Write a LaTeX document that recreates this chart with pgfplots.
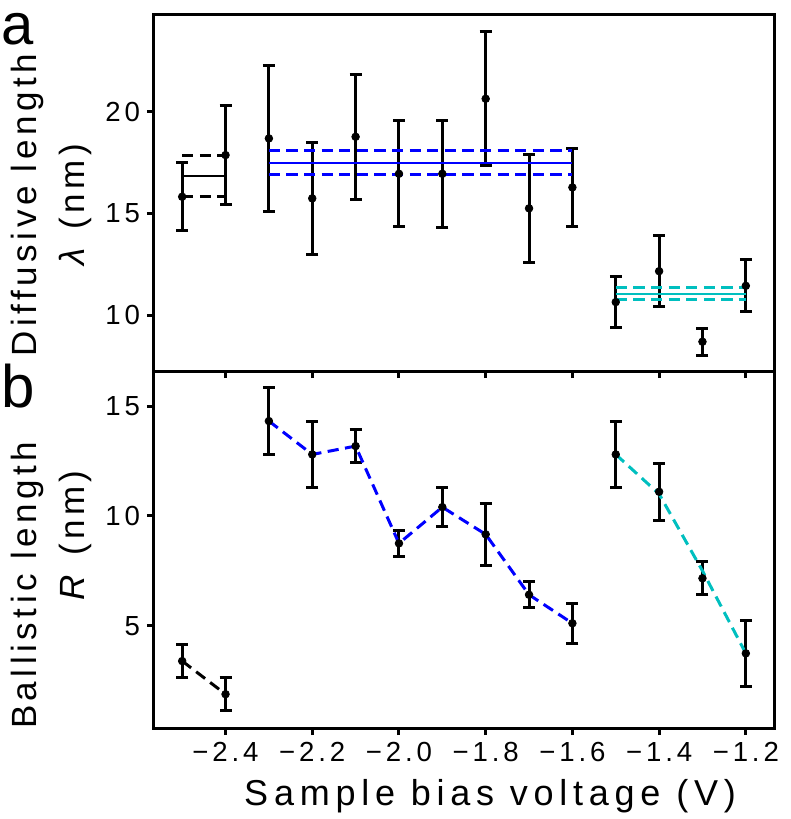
\documentclass[border=0pt]{standalone}
\usepackage{fontspec}
\setmainfont[LetterSpace=14]{Liberation Sans}
\newfontfamily\ylabfont[LetterSpace=13]{Liberation Sans}
\newfontfamily\xlabfont[LetterSpace=16]{Liberation Sans}
\usepackage{pgfplots}
\usepackage{pgfplotstable}
\pgfplotsset{compat=1.18}
\definecolor{mplcyan}{RGB}{0,191,191}

% diffusive length lambda (nm): voltage, value, error
\pgfplotstableread{
x y e
-2.5 15.82 1.67
-2.4 17.87 2.42
-2.3 18.69 3.58
-2.2 15.74 2.74
-2.1 18.77 3.08
-2.0 16.95 2.61
-1.9 16.95 2.64
-1.8 20.64 3.29
-1.7 15.25 2.66
-1.6 16.28 1.93
-1.5 10.64 1.25
-1.4 12.16 1.75
-1.3 8.69 0.66
-1.2 11.44 1.28
}\lamdata

% ballistic length R (nm)
\pgfplotstableread{
x y e
-2.5 3.39 0.75
-2.4 1.88 0.75
-2.3 14.32 1.52
-2.2 12.80 1.50
-2.1 13.18 0.75
-2.0 8.75 0.60
-1.9 10.40 0.90
-1.8 9.16 1.40
-1.7 6.41 0.60
-1.6 5.11 0.91
-1.5 12.80 1.50
-1.4 11.10 1.30
-1.3 7.16 0.76
-1.2 3.74 1.50
}\rdata

\pgfplotsset{
  panel/.style={
    scale only axis, width=310pt,
    xmin=-2.565, xmax=-1.135,
    axis line style={line width=1.5pt},
    every tick/.style={line width=1.5pt, black},
    major tick length=3.5pt,
    tick align=outside,
    xtick pos=left, ytick pos=left,
    xtick={-2.4,-2.2,-2.0,-1.8,-1.6,-1.4,-1.2},
    tick label style={font=\fontsize{13.8}{16}\selectfont},
    ylabel style={font=\ylabfont\fontsize{17.5}{21}\selectfont, align=center, anchor=center},
  },
  ebars/.style={black, only marks, mark=*, mark size=1.9pt,
    error bars/.cd, y dir=both, y explicit,
    error bar style={line width=1.5pt},
    error mark options={rotate=90, line width=1.5pt, mark size=3pt, black}},
  dsh/.style={line width=1.5pt, dash pattern=on 5.6pt off 3.2pt},
}

\begin{document}
\begin{tikzpicture}
\path[use as bounding box] (-77pt,7.5pt) rectangle (318.5pt,-402pt);

\begin{axis}[panel, at={(0,0)}, anchor=north west, height=178pt,
  ymin=7.25, ymax=24.76,
  ytick={10,15,20}, yticklabels={10,15,20},
  xticklabels={},
  ylabel={Diffusive length\\[3pt]\textit{λ} (nm)},
  ylabel style={at={(axis description cs:-0.166,0.466)}},
]
\addplot[ebars] table[x=x, y=y, y error=e]{\lamdata};

\addplot[black, line width=0.8pt] coordinates {(-2.5,16.85) (-2.4,16.85)};
\addplot[black, dsh] coordinates {(-2.5,17.87) (-2.4,17.87)};
\addplot[black, dsh] coordinates {(-2.5,15.82) (-2.4,15.82)};

\addplot[blue, line width=1pt] coordinates {(-2.3,17.49) (-1.6,17.49)};
\addplot[blue, dsh] coordinates {(-2.3,18.08) (-1.6,18.08)};
\addplot[blue, dsh] coordinates {(-2.3,16.92) (-1.6,16.92)};

\addplot[mplcyan, line width=1pt] coordinates {(-1.5,11.05) (-1.2,11.05)};
\addplot[mplcyan, dsh] coordinates {(-1.5,11.34) (-1.2,11.34)};
\addplot[mplcyan, dsh] coordinates {(-1.5,10.75) (-1.2,10.75)};
\end{axis}

\begin{axis}[panel, at={(0,-178pt)}, anchor=north west, height=178.5pt,
  ymin=0.34, ymax=16.6,
  ytick={5,10,15}, yticklabels={5,10,15},
  xticklabels={−2.4,−2.2,−2.0,−1.8,−1.6,−1.4,−1.2},
  ylabel={Ballistic length\\[3pt]\hspace*{50pt}\textit{R} (nm)},
  ylabel style={at={(axis description cs:-0.166,0.40)}},
  xlabel={Sample bias voltage (V)},
  xlabel style={font=\xlabfont\fontsize{18}{21}\selectfont, at={(axis description cs:0.542,-0.2157)}, anchor=base},
]
\addplot[ebars] table[x=x, y=y, y error=e]{\rdata};

\addplot[black, dsh] coordinates {(-2.5,3.39) (-2.4,1.88)};
\addplot[blue, dsh] coordinates {(-2.3,14.32) (-2.2,12.80) (-2.1,13.18) (-2.0,8.75) (-1.9,10.40) (-1.8,9.16) (-1.7,6.41) (-1.6,5.11)};
\addplot[mplcyan, dsh] coordinates {(-1.5,12.80) (-1.4,11.00) (-1.3,7.50) (-1.2,3.74)};
\end{axis}

\node[anchor=base west, inner sep=0, font=\fontsize{29}{30}\selectfont] at (-76.5pt,-14.5pt) {a};
\node[anchor=base west, inner sep=0, font=\fontsize{30}{30}\selectfont] at (-76.5pt,-196pt) {b};
\end{tikzpicture}
\end{document}
